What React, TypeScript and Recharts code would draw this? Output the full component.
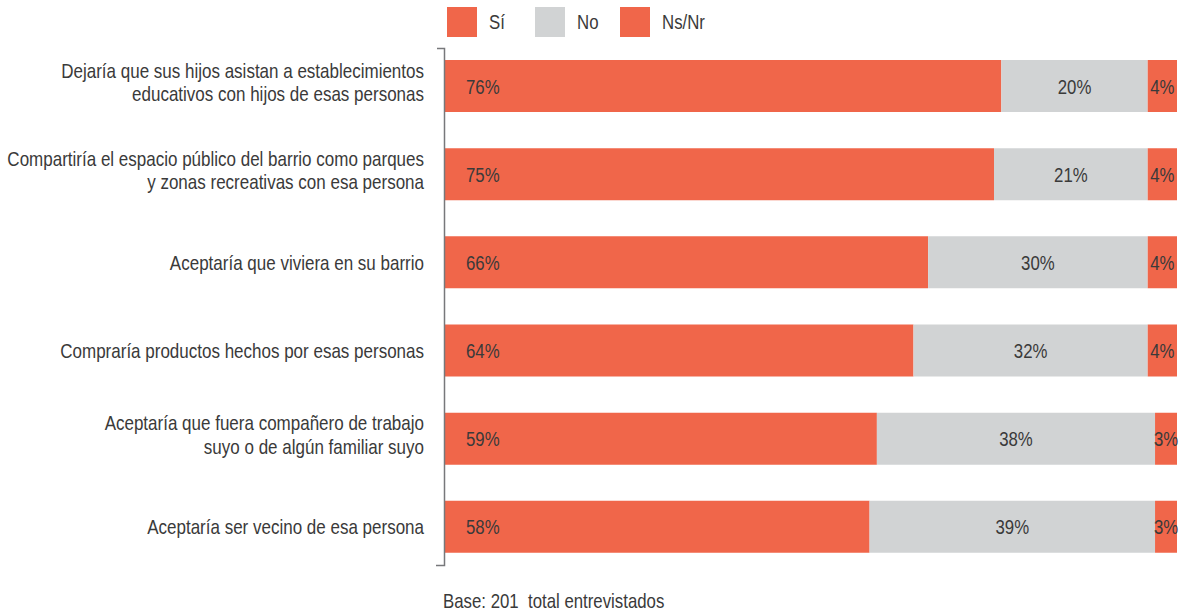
import React from 'react';
import { BarChart, Bar, XAxis, YAxis, LabelList } from 'recharts';

const categories = [
  'Dejaría que sus hijos asistan a establecimientos\neducativos con hijos de esas personas',
  'Compartiría el espacio público del barrio como parques\ny zonas recreativas con esa persona',
  'Aceptaría que viviera en su barrio',
  'Compraría productos hechos por esas personas',
  'Aceptaría que fuera compañero de trabajo\nsuyo o de algún familiar suyo',
  'Aceptaría ser vecino de esa persona',
];
const siValues = [76, 75, 66, 64, 59, 58];
const noValues = [20, 21, 30, 32, 38, 39];
const nsnrValues = [4, 4, 4, 4, 3, 3];

const seriesNames = ['Sí', 'No', 'Ns/Nr'];
const seriesKeys = ['si', 'no', 'nsnr'];
const seriesColors = ['#F0664A', '#D1D3D4', '#F0664A'];
const footnote = 'Base: 201  total entrevistados';

const data = categories.map((name, i) => ({
  name,
  si: siValues[i],
  no: noValues[i],
  nsnr: nsnrValues[i],
}));

if (typeof document !== 'undefined') {
  document.documentElement.style.overflow = 'hidden';
  document.body.style.margin = '0';
  document.body.style.overflow = 'hidden';
}

const FONT = "'Liberation Sans', Arial, sans-serif";
const FS = 21;
const SX = 0.8; // condensed look
const SX_TICK = 0.81;
const TEXT = '#3a3a3a';

const CategoryTick = (props: any) => {
  const { x, y, payload } = props;
  const lines: string[] = String(payload.value).split('\n');
  const offsets = lines.length === 1 ? [7.5] : [-8.5, 15];
  return (
    <g transform={`translate(${x},${y}) scale(${SX_TICK},1)`}>
      <text x={0} y={0} textAnchor="end" fill={TEXT} fontSize={FS} fontFamily={FONT}>
        {lines.map((l, i) => (
          <tspan key={i} x={0} y={offsets[i]}>
            {l}
          </tspan>
        ))}
      </text>
    </g>
  );
};

const makeLabel = (inside: boolean) => (props: any) => {
  const { x, y, width, height, value } = props;
  const tx = inside ? x + 21 : x + width / 2;
  const ty = y + height / 2 + 7.5;
  return (
    <g transform={`translate(${tx},${ty}) scale(${SX},1)`}>
      <text
        x={0}
        y={0}
        textAnchor={inside ? 'start' : 'middle'}
        fill={TEXT}
        fontSize={FS}
        fontFamily={FONT}
      >
        {`${value}%`}
      </text>
    </g>
  );
};

const condensed: React.CSSProperties = {
  display: 'inline-block',
  transform: `scaleX(${SX})`,
  transformOrigin: 'left center',
  whiteSpace: 'pre',
};

export default function App() {
  return (
    <div style={{ position: 'relative', width: 1179, height: 614, fontFamily: FONT, background: '#fff', overflow: 'hidden' }}>
      <BarChart
        width={1179}
        height={614}
        data={data}
        layout="vertical"
        margin={{ top: 42, right: 2, bottom: 43, left: 0 }}
      >
        <XAxis type="number" domain={[0, 100]} hide />
        <YAxis
          type="category"
          dataKey="name"
          width={445}
          axisLine={false}
          tickLine={false}
          tickSize={0}
          tickMargin={21}
          tick={<CategoryTick />}
          interval={0}
        />
        {seriesKeys.map((k, idx) => (
          <Bar
            key={k}
            dataKey={k}
            name={seriesNames[idx]}
            stackId="a"
            fill={seriesColors[idx]}
            barSize={52}
            isAnimationActive={false}
          >
            <LabelList dataKey={k} content={makeLabel(idx === 0)} />
          </Bar>
        ))}
      </BarChart>

      <svg
        width={1179}
        height={614}
        style={{ position: 'absolute', left: 0, top: 0, pointerEvents: 'none' }}
      >
        <polyline
          points="437,48.5 444.5,48.5 444.5,565.5 436,565.5"
          fill="none"
          stroke="#77787b"
          strokeWidth={1.5}
        />
      </svg>

      {seriesNames.map((n, i) => (
        <div
          key={n}
          style={{
            position: 'absolute',
            left: [447, 535, 620][i],
            top: 7,
            height: 30,
            display: 'flex',
            alignItems: 'center',
            fontSize: FS,
            color: TEXT,
          }}
        >
          <div style={{ width: 30, height: 30, background: seriesColors[i], marginRight: 12, flex: 'none' }} />
          <span style={condensed}>{n}</span>
        </div>
      ))}

      <div
        style={{
          position: 'absolute',
          left: 443,
          top: 590,
          fontSize: FS,
          lineHeight: '21px',
          color: TEXT,
        }}
      >
        <span style={condensed}>{footnote}</span>
      </div>
    </div>
  );
}
